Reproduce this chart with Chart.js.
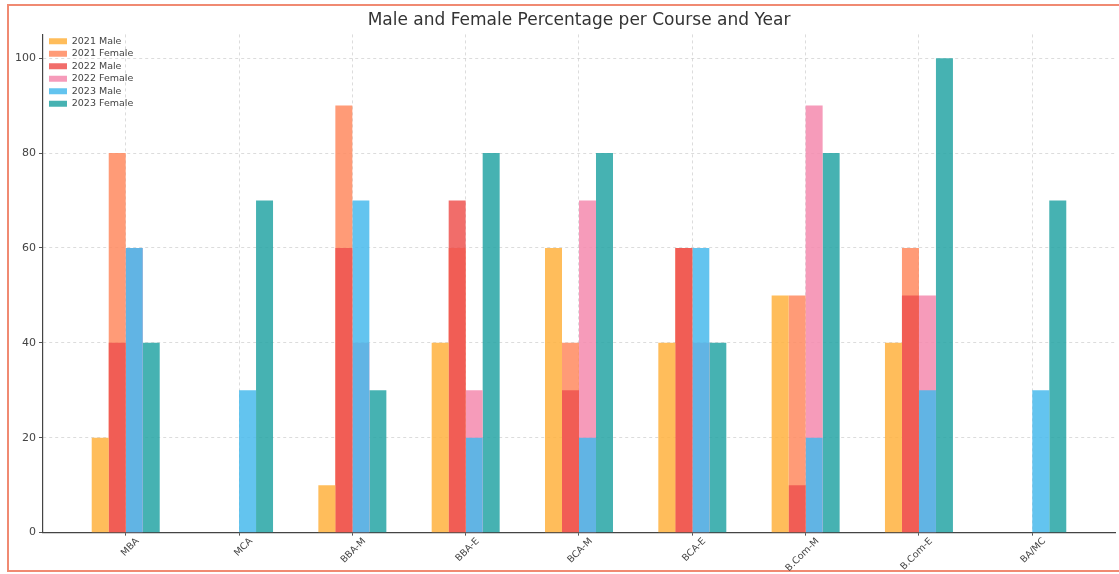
<!DOCTYPE html>
<html>
<head>
<meta charset="utf-8">
<script src="https://cdn.jsdelivr.net/npm/chart.js@4.4.0/dist/chart.umd.min.js"></script>
<style>
  html, body { margin: 0; padding: 0; background: #fff; }
  #frame { position: absolute; left: 7px; top: 4px; width: 1130px; height: 564px; border: 2px solid #f08a72; }
  #wrap { position: absolute; left: 0; top: 0; width: 1119px; height: 574px; }
</style>
</head>
<body>
<div id="frame"></div>
<div id="wrap"><canvas id="chart"></canvas></div>
<script>
const courses = ['MBA', 'MCA', 'BBA-M', 'BBA-E', 'BCA-M', 'BCA-E', 'B.Com-M', 'B.Com-E', 'BA/MC'];

const male2021   = [20, 0, 10, 40, 60, 40, 50, 40, 0];
const female2021 = [80, 0, 90, 60, 40, 60, 50, 60, 0];
const male2022   = [40, 0, 60, 70, 30, 60, 10, 50, 0];
const female2022 = [60, 0, 40, 30, 70, 40, 90, 50, 0];
const male2023   = [60, 30, 70, 20, 20, 60, 20, 30, 30];
const female2023 = [40, 70, 30, 80, 80, 40, 80, 100, 70];

const yTicks = [0, 20, 40, 60, 80, 100];

// each year's female bar sits in the same slot as the next year's male bar
function ds(label, data, color, slot, order) {
    return {
        label: label,
        data: data,
        backgroundColor: color,
        borderWidth: 0,
        stack: slot,
        order: order
    };
}

// legend 'chartArea' resets its top to 0, push it back inside the plot
const legendInside = {
    id: 'legendInside',
    afterLayout(chart) {
        const lg = chart.legend;
        const h = lg.bottom - lg.top;
        lg.top = chart.chartArea.top - 1;
        lg.bottom = lg.top + h;
        lg.left = chart.chartArea.left + 3;
    }
};

const ctx = document.getElementById('chart').getContext('2d');
new Chart(ctx, {
    type: 'bar',
    data: {
        labels: courses,
        datasets: [
            ds('2021 Male',   male2021,   'rgba(255,178,62,0.85)',  's1', 0),
            ds('2021 Female', female2021, 'rgba(255,138,95,0.85)',  's2', 2),
            ds('2022 Male',   male2022,   'rgba(239,83,80,0.85)',   's2', 1),
            ds('2022 Female', female2022, 'rgba(244,138,174,0.85)', 's3', 4),
            ds('2023 Male',   male2023,   'rgba(72,186,236,0.85)',  's3', 3),
            ds('2023 Female', female2023, 'rgba(38,164,165,0.85)',  's4', 5)
        ]
    },
    options: {
        responsive: true,
        maintainAspectRatio: false,
        animation: false,
        layout: { padding: { left: 12, right: 4, top: 4, bottom: 0 } },
        datasets: { bar: { categoryPercentage: 0.6, barPercentage: 1.0 } },
        scales: {
            x: {
                stacked: true,
                offset: true,
                afterBuildTicks: function(scale) {
                    // matplotlib-like margins around the bar groups
                    scale._startValue = -0.73;
                    scale._valueRange = courses.length - 1 + 1.46;
                },
                grid: { offset: false, color: 'rgba(185,185,185,0.5)', tickLength: 3, tickColor: '#555' },
                border: { color: '#444', width: 1.2, dash: [3, 3] },
                ticks: { minRotation: 45, maxRotation: 45, labelOffset: 12, color: '#444', font: { family: 'DejaVu Sans', size: 9.5 }, padding: 0 }
            },
            y: {
                stacked: false,
                min: 0,
                max: 105,
                afterBuildTicks: function(scale) {
                    scale.ticks = yTicks.map(v => ({ value: v }));
                },
                grid: { color: 'rgba(185,185,185,0.5)', tickLength: 4, tickColor: '#555' },
                border: { color: '#444', width: 1.2, dash: [3, 3] },
                ticks: { color: '#444', font: { family: 'DejaVu Sans', size: 11 }, padding: 3 }
            }
        },
        plugins: {
            title: {
                display: true,
                fullSize: false,
                text: 'Male and Female Percentage per Course and Year',
                color: '#333',
                font: { family: 'DejaVu Sans', size: 17, weight: 'normal' },
                padding: { top: 6, bottom: 4 }
            },
            legend: {
                position: 'chartArea',
                align: 'start',
                labels: {
                    boxWidth: 18,
                    boxHeight: 6,
                    padding: 3,
                    color: '#444',
                    font: { family: 'DejaVu Sans', size: 9.5 },
                    sort: (a, b) => a.datasetIndex - b.datasetIndex
                }
            },
            tooltip: { enabled: false }
        }
    },
    plugins: [legendInside]
});
</script>
</body>
</html>
